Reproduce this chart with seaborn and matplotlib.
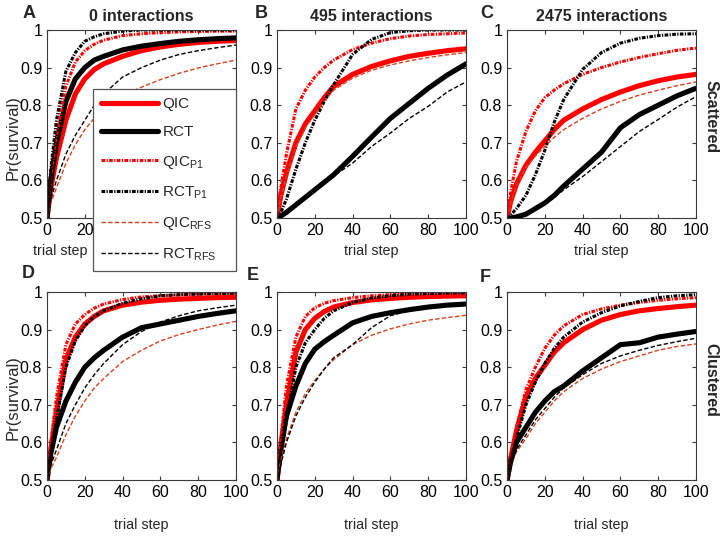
import numpy as np
import pandas as pd
import matplotlib
matplotlib.use("Agg")
import matplotlib.pyplot as plt
import seaborn as sns

# ---------------- data ----------------
STEPS = [0, 2, 5, 10, 15, 20, 25, 30, 40, 50, 60, 70, 80, 90, 100]

SERIES = ["QIC", "RCT", "QIC_P1", "RCT_P1", "QIC_RFS", "RCT_RFS"]
LABELS = ["QIC", "RCT", "QIC$_{\\mathregular{P1}}$", "RCT$_{\\mathregular{P1}}$",
          "QIC$_{\\mathregular{RFS}}$", "RCT$_{\\mathregular{RFS}}$"]
TITLES = ["0 interactions", "495 interactions", "2475 interactions"]
PANEL_LETTERS = ["A", "B", "C", "D", "E", "F"]
ROW_LABELS = ["Scattered", "Clustered"]
YTICKS = [0.5, 0.6, 0.7, 0.8, 0.9, 1.0]
YTICK_LABELS = ["0.5", "0.6", "0.7", "0.8", "0.9", "1"]
XTICKS = [0, 20, 40, 60, 80, 100]

# Panel A (scattered, 0 interactions)
A_QIC     = [0.5, 0.58, 0.66, 0.76, 0.83, 0.87, 0.895, 0.91, 0.93, 0.945, 0.955, 0.962, 0.967, 0.97, 0.972]
A_RCT     = [0.5, 0.60, 0.70, 0.81, 0.87, 0.90, 0.92, 0.93, 0.947, 0.957, 0.964, 0.97, 0.974, 0.977, 0.979]
A_QIC_P1  = [0.5, 0.61, 0.72, 0.85, 0.915, 0.945, 0.962, 0.973, 0.985, 0.99, 0.993, 0.995, 0.996, 0.997, 0.997]
A_RCT_P1  = [0.5, 0.63, 0.76, 0.89, 0.94, 0.97, 0.982, 0.99, 0.997, 1.0, 1.0, 1.0, 1.0, 1.0, 1.0]
A_QIC_RFS = [0.5, 0.54, 0.58, 0.645, 0.695, 0.735, 0.765, 0.79, 0.825, 0.848, 0.868, 0.885, 0.899, 0.91, 0.92]
A_RCT_RFS = [0.5, 0.55, 0.60, 0.67, 0.72, 0.76, 0.80, 0.83, 0.875, 0.90, 0.92, 0.935, 0.945, 0.953, 0.96]

# Panel B (scattered, 495 interactions)
B_QIC     = [0.5, 0.56, 0.62, 0.70, 0.75, 0.785, 0.82, 0.85, 0.882, 0.903, 0.918, 0.93, 0.938, 0.945, 0.95]
B_RCT     = [0.5, 0.505, 0.515, 0.535, 0.555, 0.575, 0.595, 0.615, 0.664, 0.715, 0.765, 0.805, 0.845, 0.88, 0.91]
B_QIC_P1  = [0.5, 0.58, 0.67, 0.79, 0.84, 0.875, 0.90, 0.92, 0.948, 0.965, 0.977, 0.984, 0.988, 0.99, 0.992]
B_RCT_P1  = [0.5, 0.515, 0.55, 0.63, 0.70, 0.76, 0.81, 0.855, 0.935, 0.975, 0.993, 0.998, 1.0, 1.0, 1.0]
B_QIC_RFS = [0.5, 0.555, 0.61, 0.69, 0.74, 0.775, 0.81, 0.84, 0.872, 0.893, 0.907, 0.918, 0.927, 0.934, 0.94]
B_RCT_RFS = [0.5, 0.505, 0.515, 0.535, 0.555, 0.575, 0.595, 0.612, 0.646, 0.69, 0.726, 0.765, 0.797, 0.835, 0.862]

# Panel C (scattered, 2475 interactions)
C_QIC     = [0.5, 0.545, 0.59, 0.64, 0.675, 0.705, 0.735, 0.76, 0.79, 0.815, 0.835, 0.852, 0.865, 0.875, 0.882]
C_RCT     = [0.5, 0.50, 0.503, 0.51, 0.525, 0.54, 0.56, 0.585, 0.63, 0.675, 0.74, 0.775, 0.80, 0.825, 0.845]
C_QIC_P1  = [0.5, 0.57, 0.65, 0.73, 0.785, 0.82, 0.84, 0.857, 0.882, 0.90, 0.915, 0.927, 0.937, 0.946, 0.952]
C_RCT_P1  = [0.5, 0.508, 0.525, 0.56, 0.615, 0.68, 0.755, 0.815, 0.895, 0.94, 0.965, 0.978, 0.985, 0.989, 0.99]
C_QIC_RFS = [0.5, 0.54, 0.585, 0.635, 0.665, 0.69, 0.715, 0.735, 0.765, 0.79, 0.81, 0.827, 0.84, 0.852, 0.862]
C_RCT_RFS = [0.5, 0.50, 0.503, 0.51, 0.525, 0.54, 0.555, 0.575, 0.61, 0.65, 0.69, 0.73, 0.762, 0.795, 0.823]

# Panel D (clustered, 0 interactions)
D_QIC     = [0.5, 0.58, 0.68, 0.82, 0.88, 0.915, 0.935, 0.95, 0.965, 0.973, 0.978, 0.981, 0.983, 0.985, 0.986]
D_RCT     = [0.5, 0.57, 0.64, 0.71, 0.76, 0.80, 0.825, 0.845, 0.88, 0.905, 0.915, 0.925, 0.935, 0.943, 0.95]
D_QIC_P1  = [0.5, 0.60, 0.72, 0.86, 0.915, 0.94, 0.957, 0.968, 0.98, 0.987, 0.99, 0.992, 0.994, 0.995, 0.995]
D_RCT_P1  = [0.5, 0.57, 0.66, 0.80, 0.87, 0.91, 0.935, 0.95, 0.97, 0.982, 0.99, 0.993, 0.995, 0.996, 0.997]
D_QIC_RFS = [0.5, 0.53, 0.56, 0.62, 0.67, 0.71, 0.745, 0.77, 0.815, 0.845, 0.87, 0.887, 0.90, 0.912, 0.922]
D_RCT_RFS = [0.5, 0.54, 0.58, 0.65, 0.70, 0.745, 0.78, 0.81, 0.86, 0.895, 0.92, 0.937, 0.95, 0.958, 0.965]

# Panel E (clustered, 495 interactions)
E_QIC     = [0.5, 0.59, 0.70, 0.84, 0.90, 0.93, 0.948, 0.96, 0.972, 0.979, 0.983, 0.986, 0.988, 0.989, 0.99]
E_RCT     = [0.5, 0.58, 0.67, 0.75, 0.81, 0.848, 0.868, 0.885, 0.918, 0.935, 0.945, 0.953, 0.96, 0.965, 0.968]
E_QIC_P1  = [0.5, 0.61, 0.75, 0.88, 0.935, 0.958, 0.97, 0.977, 0.985, 0.99, 0.993, 0.995, 0.996, 0.997, 0.997]
E_RCT_P1  = [0.5, 0.57, 0.66, 0.80, 0.865, 0.90, 0.93, 0.95, 0.972, 0.984, 0.99, 0.994, 0.996, 0.997, 0.998]
E_QIC_RFS = [0.5, 0.55, 0.61, 0.68, 0.73, 0.765, 0.795, 0.82, 0.86, 0.885, 0.902, 0.915, 0.925, 0.932, 0.938]
E_RCT_RFS = [0.5, 0.54, 0.60, 0.67, 0.72, 0.76, 0.795, 0.825, 0.86, 0.905, 0.937, 0.95, 0.958, 0.965, 0.97]

# Panel F (clustered, 2475 interactions)
F_QIC     = [0.5, 0.56, 0.63, 0.72, 0.77, 0.805, 0.84, 0.865, 0.90, 0.925, 0.94, 0.95, 0.956, 0.961, 0.965]
F_RCT     = [0.5, 0.55, 0.60, 0.64, 0.68, 0.71, 0.735, 0.75, 0.79, 0.825, 0.86, 0.865, 0.88, 0.888, 0.895]
F_QIC_P1  = [0.5, 0.56, 0.64, 0.74, 0.80, 0.85, 0.885, 0.91, 0.94, 0.955, 0.965, 0.972, 0.978, 0.982, 0.985]
F_RCT_P1  = [0.5, 0.55, 0.61, 0.70, 0.76, 0.81, 0.85, 0.88, 0.92, 0.945, 0.963, 0.975, 0.985, 0.99, 0.993]
F_QIC_RFS = [0.5, 0.54, 0.575, 0.61, 0.65, 0.68, 0.71, 0.735, 0.77, 0.795, 0.815, 0.83, 0.845, 0.855, 0.862]
F_RCT_RFS = [0.5, 0.54, 0.58, 0.62, 0.66, 0.69, 0.72, 0.745, 0.78, 0.81, 0.83, 0.845, 0.858, 0.868, 0.877]

PANELS = [
    [A_QIC, A_RCT, A_QIC_P1, A_RCT_P1, A_QIC_RFS, A_RCT_RFS],
    [B_QIC, B_RCT, B_QIC_P1, B_RCT_P1, B_QIC_RFS, B_RCT_RFS],
    [C_QIC, C_RCT, C_QIC_P1, C_RCT_P1, C_QIC_RFS, C_RCT_RFS],
    [D_QIC, D_RCT, D_QIC_P1, D_RCT_P1, D_QIC_RFS, D_RCT_RFS],
    [E_QIC, E_RCT, E_QIC_P1, E_RCT_P1, E_QIC_RFS, E_RCT_RFS],
    [F_QIC, F_RCT, F_QIC_P1, F_RCT_P1, F_QIC_RFS, F_RCT_RFS],
]

# ---------------- styles ----------------
STYLES = {
    "QIC":     dict(color="#ff0000", lw=3.7, ls="-"),
    "RCT":     dict(color="#000000", lw=3.7, ls="-"),
    "QIC_P1":  dict(color="#ff0000", lw=2.2, ls=(0, (1.2, 0.45, 0.4, 0.45))),
    "RCT_P1":  dict(color="#000000", lw=2.2, ls=(0, (1.2, 0.45, 0.4, 0.45))),
    "QIC_RFS": dict(color="#d8401c", lw=1.0, ls=(0, (3.2, 1.6))),
    "RCT_RFS": dict(color="#000000", lw=1.0, ls=(0, (3.2, 1.6))),
}

sns.set_theme(style="ticks")
plt.rcParams["font.family"] = ["Liberation Sans", "DejaVu Sans"]
plt.rcParams["mathtext.fontset"] = "custom"
plt.rcParams["mathtext.rm"] = "Liberation Sans"
plt.rcParams["mathtext.it"] = "Liberation Sans"

W, H = 722, 541
fig = plt.figure(figsize=(W / 100, H / 100), dpi=100)
fig.patch.set_facecolor("white")

lefts = [47, 277, 507]
tops = [30, 292]
aw, ah = 189, 188
axes = []
for r in range(2):
    for c in range(3):
        ax = fig.add_axes([lefts[c] / W, 1 - (tops[r] + ah) / H, aw / W, ah / H])
        axes.append(ax)

SPINE = "#3a3a3a"
legend_handles = []
for i, ax in enumerate(axes):
    ax.set_facecolor("white")
    for key, vals in zip(SERIES, PANELS[i]):
        st = STYLES[key]
        sns.lineplot(x=STEPS, y=vals, ax=ax, color=st["color"], linewidth=st["lw"],
                     linestyle=st["ls"], estimator=None, legend=False)
        if i == 0:
            legend_handles.append(ax.lines[-1])
    ax.set_xlim(0, 100)
    ax.set_ylim(0.5, 1.0)
    ax.set_xticks(XTICKS)
    if i == 0:
        # labels from 40 on are hidden behind the legend in the original
        ax.set_xticklabels([str(t) if t < 40 else "" for t in XTICKS])
    else:
        ax.set_xticklabels([str(t) for t in XTICKS])
    ax.set_yticks(YTICKS)
    ax.set_yticklabels(YTICK_LABELS)
    ax.tick_params(direction="in", length=3, width=0.8, color=SPINE, labelsize=11.5,
                   pad=3.5, top=True, right=True, labelcolor="black")
    for s in ax.spines.values():
        s.set_visible(True)
        s.set_color(SPINE)
        s.set_linewidth(0.8)
    ax.set_xlabel("trial step", fontsize=10.3)
    r = i // 3
    if r == 0:
        ax.xaxis.set_label_coords(0.5, -0.138)
        ax.set_title(TITLES[i], fontsize=11.5, fontweight="bold", pad=6.5)
    else:
        ax.xaxis.set_label_coords(0.5, -0.202)
    ax.set_ylabel("")

axes[0].xaxis.set_label_coords(0.069, -0.138)

# y labels
for yc in [138, 398]:
    fig.text(13 / W, 1 - yc / H, "Pr(survival)", rotation=90, ha="center", va="center",
             fontsize=12)

# panel letters
letter_pos = [(23, 14), (255, 14), (480, 14), (22, 274), (247, 275), (480, 277)]
for L, (px, py) in zip(PANEL_LETTERS, letter_pos):
    fig.text(px / W, 1 - py / H, L, ha="left", va="center", fontsize=13, fontweight="bold")

# row labels
for lab, yc in zip(ROW_LABELS, [117, 380]):
    fig.text(711 / W, 1 - yc / H, lab, rotation=-90, ha="center", va="center",
             fontsize=11.5, fontweight="bold")

# legend in panel A
leg = axes[0].legend(legend_handles, LABELS, loc="upper left",
                     bbox_to_anchor=(0.243, -0.293, 0.757, 0.979), mode="expand",
                     fontsize=11, frameon=True, fancybox=False, framealpha=1.0,
                     edgecolor="#555555", handlelength=3.7, handletextpad=0.3,
                     labelspacing=0.92, borderpad=0.55, borderaxespad=0.0)
leg.get_frame().set_linewidth(0.9)
leg.set_zorder(20)

fig.savefig("out.png", dpi=100, facecolor="white")
